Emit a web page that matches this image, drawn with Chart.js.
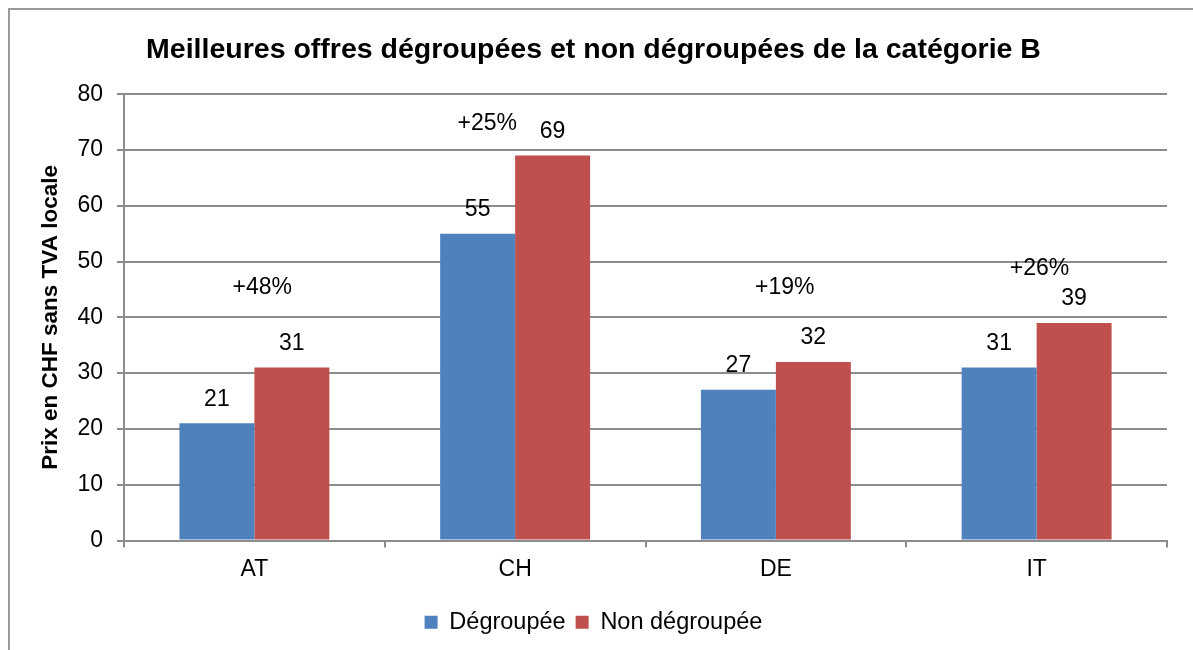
<!DOCTYPE html>
<html lang="fr">
<head>
  <meta charset="UTF-8">
  <title>Meilleures offres dégroupées et non dégroupées</title>
  <script src="https://cdn.jsdelivr.net/npm/chart.js"></script>
  <style>
    body {
      margin: 0;
      background-color: #ffffff;
      overflow: hidden;
      font-family: "Liberation Sans", Arial, sans-serif;
    }
    .frame {
      position: absolute;
      left: 8px;
      top: 8px;
      width: 1220px;
      height: 700px;
      border: 2px solid #9a9a9a;
    }
    #chart {
      position: absolute;
      left: 0;
      top: 0;
    }
  </style>
</head>
<body>

<div class="frame"></div>
<canvas id="chart" width="1193" height="650"></canvas>

<script>
  // chart values
  const countries = ["AT", "CH", "DE", "IT"];
  const degroupee = [21, 55, 27, 31];
  const nonDegroupee = [31, 69, 32, 39];
  const pctLabels = ["+48%", "+25%", "+19%", "+26%"];
  const yTicks = [0, 10, 20, 30, 40, 50, 60, 70, 80];

  const FONT = "'Liberation Sans', Arial, sans-serif";

  // value labels above each bar
  const barLabels = {
    id: "barLabels",
    afterDatasetsDraw(chart) {
      const ctx = chart.ctx;
      ctx.save();
      ctx.font = "23px " + FONT;
      ctx.fillStyle = "#000";
      ctx.textAlign = "center";
      ctx.textBaseline = "middle";
      chart.data.datasets.forEach((ds, i) => {
        chart.getDatasetMeta(i).data.forEach((bar, j) => {
          ctx.fillText(ds.data[j], bar.x, bar.y - 24);
        });
      });
      ctx.restore();
    }
  };

  // percentage text boxes placed over each group
  const pctNotes = {
    id: "pctNotes",
    afterDatasetsDraw(chart, args, opts) {
      const ctx = chart.ctx;
      const xs = chart.scales.x;
      const ys = chart.scales.y;
      ctx.save();
      ctx.font = "23px " + FONT;
      ctx.fillStyle = "#000";
      ctx.textAlign = "center";
      ctx.textBaseline = "middle";
      pctLabels.forEach((txt, i) => {
        const x = xs.getPixelForValue(i + opts.dx[i]);
        const y = ys.getPixelForValue(opts.at[i]);
        ctx.fillText(txt, x, y);
      });
      ctx.restore();
    }
  };

  new Chart(document.getElementById("chart"), {
    type: "bar",
    data: {
      labels: countries,
      datasets: [
        {
          label: "Dégroupée",
          data: degroupee,
          backgroundColor: "#4F81BD",
          categoryPercentage: 0.575,
          barPercentage: 1.0
        },
        {
          label: "Non dégroupée",
          data: nonDegroupee,
          backgroundColor: "#C0504D",
          categoryPercentage: 0.575,
          barPercentage: 1.0
        }
      ]
    },
    options: {
      responsive: false,
      animation: false,
      layout: { padding: { left: 20, right: 26, top: 0, bottom: 6 } },
      plugins: {
        title: {
          display: true,
          text: "Meilleures offres dégroupées et non dégroupées de la catégorie B",
          color: "#000",
          font: { family: FONT, size: 28.5, weight: "bold" },
          padding: { top: 33, bottom: 27 }
        },
        legend: {
          position: "bottom",
          labels: {
            color: "#000",
            font: { family: FONT, size: 23.5 },
            boxWidth: 13,
            boxHeight: 13,
            padding: 10
          }
        },
        tooltip: { enabled: false },
        pctNotes: {
          at: [45.4, 74.8, 45.4, 48.8],
          dx: [0.03, -0.107, 0.034, 0.011]
        }
      },
      scales: {
        x: {
          afterFit(scale) { scale.height = 60; },
          grid: {
            offset: true,
            drawOnChartArea: false,
            drawTicks: true,
            tickLength: 7,
            color: "#8c8c8c",
            lineWidth: 2
          },
          border: { color: "#8c8c8c", width: 2 },
          ticks: {
            color: "#000",
            font: { family: FONT, size: 23 },
            padding: 8
          }
        },
        y: {
          min: 0,
          max: 80,
          afterFit(scale) { scale.width = 104; },
          afterBuildTicks(scale) {
            scale.ticks = yTicks.map(v => ({ value: v }));
          },
          grid: {
            color: "#8c8c8c",
            lineWidth: 2,
            tickLength: 7
          },
          border: { color: "#8c8c8c", width: 2 },
          ticks: {
            color: "#000",
            font: { family: FONT, size: 23 },
            padding: 14
          },
          title: {
            display: true,
            text: "Prix en CHF sans TVA locale",
            color: "#000",
            font: { family: FONT, size: 22.5, weight: "bold" },
            padding: { top: 17, bottom: 0 }
          }
        }
      }
    },
    plugins: [barLabels, pctNotes]
  });
</script>

</body>
</html>
